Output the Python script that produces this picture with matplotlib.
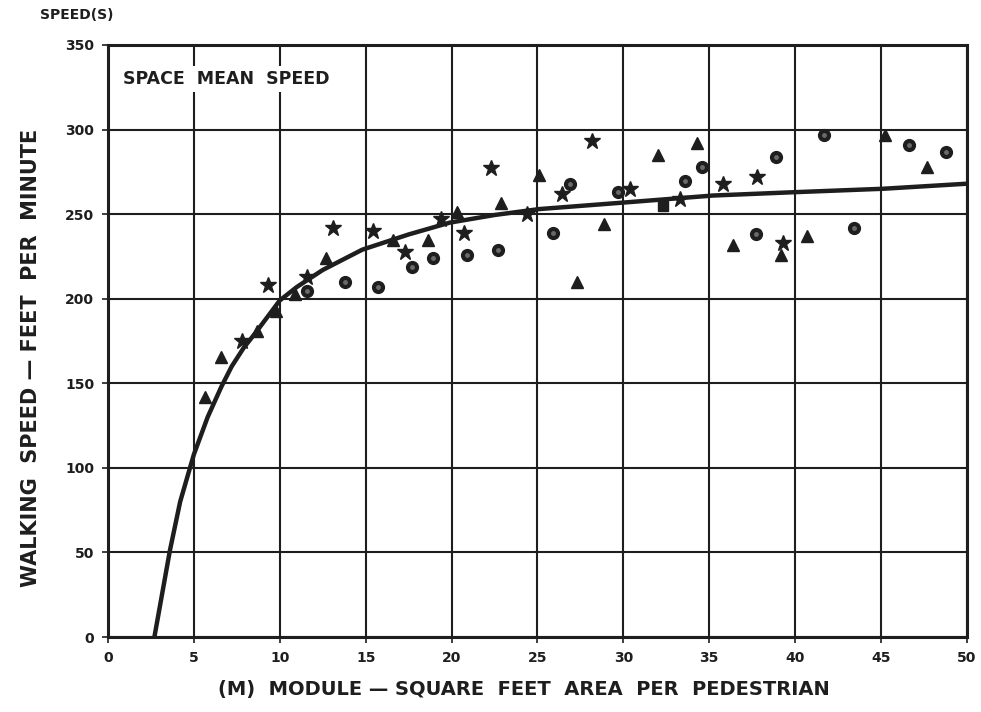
import matplotlib.pyplot as plt

# fitted curve
curve_m = [2.7, 3.6, 4.2, 5.0, 5.8, 6.6, 7.2, 7.9, 8.6, 10.0, 11.0, 12.5, 14.8, 17.5,
           19.9, 22.5, 25.1, 30.2, 35.2, 40.0, 45.1, 50.0]
curve_s = [0, 51, 80, 108, 130, 148, 160, 171, 180, 199, 207, 217, 229, 238,
           245, 249.5, 253, 257, 261, 263, 265, 268]

# observations
star_m = [7.8, 9.3, 11.6, 13.1, 15.4, 17.3, 19.4, 20.7, 22.3, 24.4, 26.4, 28.2,
          30.4, 33.3, 35.8, 37.8, 39.3]
star_s = [175, 208, 213, 241.7, 240, 227.5, 247, 239, 277, 250, 262, 293,
          265, 259, 268, 272, 233]

tri_m = [5.65, 6.6, 8.7, 9.8, 10.9, 12.7, 16.6, 18.6, 20.3, 22.9, 25.1, 27.3,
         28.9, 32.0, 34.3, 36.4, 39.2, 40.7, 45.2, 47.7]
tri_s = [142, 165.5, 181, 193, 203, 224, 235, 235, 251, 256.5, 273, 210,
         244, 285, 292, 232, 226, 237, 297, 278]

circ_m = [11.6, 13.8, 15.7, 17.7, 18.9, 20.9, 22.7, 25.9, 26.9, 29.7, 33.6, 34.6,
          37.7, 38.9, 41.7, 43.4, 46.6, 48.8]
circ_s = [204.5, 210, 207, 219, 224, 226, 229, 239, 268, 263, 269.5, 278,
          238, 284, 297, 241.7, 291, 287]

sq_m = [32.3]
sq_s = [255]

ink = '#1e1e1e'

fig = plt.figure(figsize=(9.81, 7.12), dpi=100)
ax = fig.add_axes([0.1101, 0.1053, 0.8756, 0.8315])

ax.set_xlim(0, 50)
ax.set_ylim(0, 350)
ax.set_xticks(range(0, 51, 5))
ax.set_yticks(range(0, 351, 50))
ax.grid(True, color=ink, linewidth=1.5)
ax.set_axisbelow(True)
for sp in ax.spines.values():
    sp.set_linewidth(2.2)
    sp.set_color(ink)

ax.tick_params(direction='out', length=4, width=1.2, colors=ink, pad=6)
for lab in ax.get_xticklabels() + ax.get_yticklabels():
    lab.set_fontweight('bold')
    lab.set_fontsize(10)

ax.plot(curve_m, curve_s, color=ink, linewidth=3.2, zorder=3)
ax.plot(star_m, star_s, linestyle='none', marker='*', markersize=12, color=ink, zorder=4)
ax.plot(tri_m, tri_s, linestyle='none', marker='^', markersize=8.5, color=ink, zorder=4)
ax.plot(circ_m, circ_s, linestyle='none', marker='o', markersize=8.5, color=ink,
        markeredgecolor=ink, zorder=4)
ax.plot(circ_m, circ_s, linestyle='none', marker='o', markersize=2.5, color='#6a6a6a', zorder=5)
ax.plot(sq_m, sq_s, linestyle='none', marker='s', markersize=7, color=ink, zorder=4)

ax.text(0.9, 330, 'SPACE  MEAN  SPEED', fontsize=12.5, fontweight='bold', color=ink,
        va='center', ha='left', zorder=6,
        bbox=dict(facecolor='white', edgecolor='none', pad=3))

fig.text(0.041, 0.979, 'SPEED(S)', fontsize=10, fontweight='bold', color=ink,
         va='center', ha='left')
fig.text(0.534, 0.031, '(M)  MODULE \u2014 SQUARE  FEET  AREA  PER  PEDESTRIAN',
         fontsize=14, fontweight='bold', color=ink, ha='center', va='center')
fig.text(0.032, 0.497, 'WALKING  SPEED \u2014 FEET  PER  MINUTE',
         fontsize=15, fontweight='bold', color=ink, ha='center', va='center',
         rotation=90)

fig.savefig('out.png', dpi=100)
